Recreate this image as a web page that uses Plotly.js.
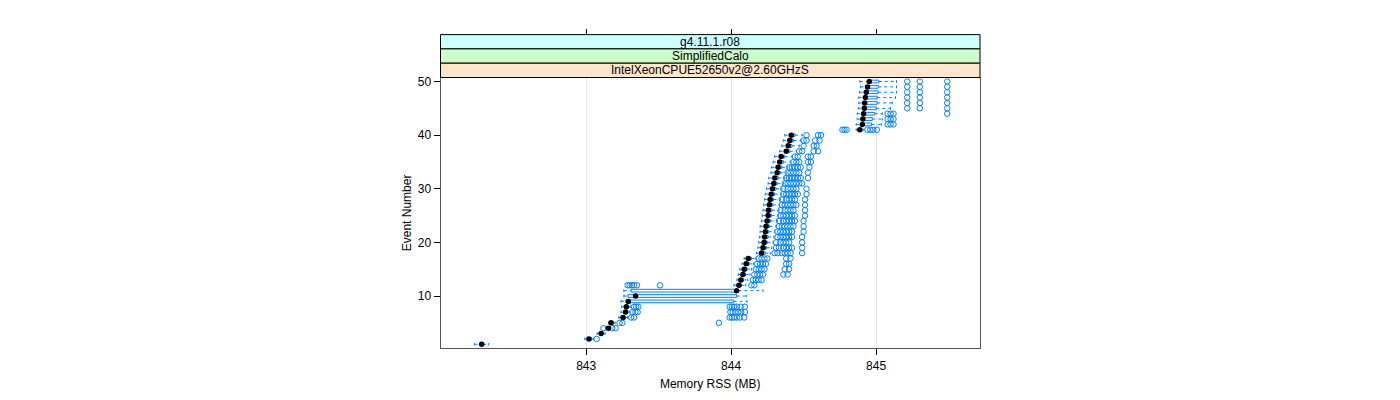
<!DOCTYPE html>
<html><head><meta charset="utf-8">
<script src="https://cdn.plot.ly/plotly-3.0.1.min.js"></script>
<style>html,body{margin:0;padding:0;background:#fff}#chart{width:1400px;height:400px}</style>
</head><body><div id="chart"></div>
<script>
// ---- data ----
const events = [1,2,3,4,5,6,7,8,9,10,11,12,13,14,15,16,17,18,19,20,21,22,23,24,25,26,27,28,29,30,31,32,33,34,35,36,37,38,39,40,41,42,43,44,45,46,47,48,49,50];
const lowerWhisker = [842.230,842.990,843.075,843.135,843.155,843.225,843.240,843.245,843.240,843.260,843.260,844.020,844.040,844.050,844.060,844.075,844.090,844.175,844.185,844.190,844.195,844.200,844.200,844.210,844.215,844.220,844.225,844.230,844.235,844.245,844.255,844.260,844.275,844.280,844.290,844.300,844.335,844.350,844.360,844.370,844.863,844.863,844.870,844.870,844.877,844.881,844.881,844.886,844.893,844.888];
const q1 = [842.268,843.015,843.095,843.145,843.168,843.245,843.262,843.268,843.275,843.288,843.310,844.040,844.058,844.070,844.080,844.095,844.110,844.200,844.210,844.218,844.222,844.227,844.232,844.240,844.246,844.248,844.255,844.260,844.267,844.276,844.285,844.292,844.308,844.315,844.325,844.335,844.370,844.384,844.395,844.405,844.882,844.898,844.903,844.908,844.912,844.915,844.920,844.925,844.935,844.945];
const median = [842.279,843.019,843.103,843.153,843.172,843.254,843.272,843.277,843.291,843.341,844.038,844.054,844.067,844.081,844.090,844.104,844.118,844.210,844.220,844.227,844.231,844.236,844.241,844.248,844.255,844.257,844.264,844.269,844.276,844.285,844.294,844.301,844.317,844.324,844.335,844.345,844.380,844.394,844.405,844.415,844.888,844.905,844.909,844.914,844.919,844.921,844.926,844.932,844.941,844.953];
const q3 = [842.290,843.035,843.115,843.165,843.185,843.270,843.285,843.290,844.017,844.038,844.050,844.070,844.085,844.100,844.110,844.125,844.140,844.235,844.245,844.250,844.255,844.260,844.265,844.272,844.278,844.282,844.288,844.293,844.300,844.310,844.318,844.325,844.340,844.350,844.360,844.370,844.405,844.420,844.430,844.440,844.900,844.969,844.974,844.992,845.001,845.008,845.008,845.015,845.015,845.019];
const upperWhisker = [842.328,843.050,843.130,843.170,843.200,843.285,843.300,843.305,844.110,844.105,844.220,844.100,844.115,844.130,844.140,844.155,844.170,844.270,844.280,844.290,844.295,844.300,844.310,844.320,844.325,844.330,844.335,844.340,844.345,844.350,844.360,844.370,844.380,844.390,844.410,844.420,844.450,844.470,844.480,844.490,844.916,845.036,845.043,845.043,845.100,845.112,845.134,845.141,845.141,845.141];
const outliers = [
  [],
  [843.072],
  [],
  [843.119,843.180,843.203],
  [843.230,843.250,843.916],
  [843.310,843.330,843.990,844.005,844.020,844.040,844.060,844.090],
  [843.320,843.340,843.355,843.995,844.010,844.030,844.050,844.070,844.095],
  [843.330,843.345,843.360,843.990,844.005,844.020,844.040,844.065,844.095],
  [],
  [],
  [],
  [843.286,843.300,843.315,843.330,843.350,843.510,844.140,844.160],
  [844.150,844.170,844.190,844.210],
  [844.160,844.180,844.200,844.220,844.360,844.390],
  [844.170,844.190,844.210,844.230,844.370,844.400],
  [844.180,844.200,844.220,844.240,844.380,844.400],
  [844.190,844.210,844.230,844.250,844.380,844.410],
  [844.300,844.320,844.350,844.370,844.390,844.410,844.490],
  [844.310,844.330,844.360,844.380,844.400,844.420,844.490],
  [844.310,844.340,844.360,844.380,844.400,844.490],
  [844.320,844.340,844.360,844.380,844.400,844.420,844.490],
  [844.320,844.340,844.360,844.380,844.400,844.420,844.500],
  [844.330,844.350,844.370,844.390,844.410,844.430,844.500],
  [844.330,844.360,844.380,844.400,844.420,844.440,844.500],
  [844.340,844.360,844.380,844.400,844.420,844.440,844.510],
  [844.340,844.370,844.390,844.410,844.430,844.510],
  [844.350,844.370,844.390,844.410,844.430,844.450,844.510],
  [844.350,844.380,844.400,844.420,844.440,844.510],
  [844.360,844.380,844.400,844.420,844.440,844.460,844.520],
  [844.360,844.390,844.410,844.430,844.450,844.520],
  [844.370,844.390,844.410,844.430,844.450,844.470,844.490],
  [844.380,844.400,844.420,844.440,844.460,844.480,844.530],
  [844.390,844.410,844.430,844.450,844.470,844.530],
  [844.400,844.420,844.440,844.460,844.480,844.540],
  [844.430,844.450,844.470,844.530,844.550],
  [844.440,844.460,844.530,844.550],
  [844.470,844.490,844.570,844.600],
  [844.500,844.570,844.590],
  [844.500,844.520,844.580,844.610],
  [844.520,844.600,844.620],
  [844.768,844.782,844.797,844.940,844.960,844.980,845.005],
  [845.080,845.100,845.120],
  [845.080,845.100,845.120],
  [845.080,845.100,845.120,845.491],
  [845.215,845.302,845.491],
  [845.215,845.302,845.491],
  [845.215,845.302,845.491],
  [845.215,845.302,845.491],
  [845.215,845.302,845.491],
  [845.215,845.302,845.491]
];
const stripLabels = ["g4.11.1.r08", "SimplifiedCalo", "IntelXeonCPUE52650v2@2.60GHzS"];
const stripColors = ["#ccffff", "#ccffcc", "#ffe5cc"];
const xTickVals = [843, 844, 845];
const yTickVals = [10, 20, 30, 40, 50];

// ---- build marks from data ----
const H = 0.25; // half box height in category units
const BLUE = "#0080ff";
const boxX = [], boxY = [], whX = [], whY = [], capX = [], capY = [];
const outX = [], outY = [];
events.forEach((e, i) => {
  boxX.push(q1[i], q3[i], q3[i], q1[i], q1[i], null);
  boxY.push(e - H, e - H, e + H, e + H, e - H, null);
  whX.push(lowerWhisker[i], q1[i], null, q3[i], upperWhisker[i], null);
  whY.push(e, e, null, e, e, null);
  capX.push(lowerWhisker[i], lowerWhisker[i], null, upperWhisker[i], upperWhisker[i], null);
  capY.push(e - H, e + H, null, e - H, e + H, null);
  outliers[i].forEach(v => { outX.push(v); outY.push(e); });
});

const traces = [
  {type: "scatter", mode: "lines", x: whX, y: whY, line: {color: BLUE, width: 1, dash: "3px,3px"}, hoverinfo: "skip", showlegend: false},
  {type: "scatter", mode: "lines", x: capX, y: capY, line: {color: BLUE, width: 1}, hoverinfo: "skip", showlegend: false},
  {type: "scatter", mode: "lines", x: boxX, y: boxY, line: {color: BLUE, width: 1}, hoverinfo: "skip", showlegend: false},
  {type: "scatter", mode: "markers", x: outX, y: outY, marker: {symbol: "circle-open", size: 5.5, color: BLUE, line: {width: 1, color: BLUE}}, showlegend: false},
  {type: "scatter", mode: "markers", x: median, y: events, xaxis: "x2", marker: {symbol: "circle", size: 5.5, color: "#000000"}, showlegend: false}
];

const W = 1400, HH = 400;
const px0 = 440.5, px1 = 980, pyTop = 77.5, pyBot = 348.3;
const stripH = 14.3;
const xdom = [px0 / W, px1 / W];
const FONT = "Liberation Sans, Arial, Helvetica, sans-serif";

const shapes = [], annotations = [];
stripLabels.forEach((lab, k) => {
  const top = pyTop - (3 - k) * stripH;
  const bot = top + stripH;
  shapes.push({type: "rect", xref: "paper", yref: "paper", x0: xdom[0], x1: xdom[1], y0: 1 - bot / HH, y1: 1 - top / HH,
    fillcolor: stripColors[k], line: {color: "#000000", width: 1}, layer: "above"});
  annotations.push({xref: "paper", yref: "paper", x: (xdom[0] + xdom[1]) / 2, y: 1 - (top + bot) / 2 / HH,
    text: lab, showarrow: false, xanchor: "center", yanchor: "middle", font: {family: FONT, size: 12, color: "#000"}});
});

const xRange = [841.995, 845.717];
const layout = {
  width: W, height: HH,
  margin: {l: 0, r: 0, t: 0, b: 0},
  paper_bgcolor: "#ffffff", plot_bgcolor: "#ffffff",
  font: {family: FONT, size: 12, color: "#000"},
  showlegend: false,
  xaxis: {domain: xdom, range: xRange, tickvals: xTickVals, ticks: "outside", ticklen: 6, tickcolor: "#000",
    showline: true, mirror: true, linecolor: "#555", linewidth: 1, showgrid: true, gridcolor: "#e6e6e6", zeroline: false,
    tickfont: {size: 12}, title: {text: "Memory RSS (MB)", font: {size: 12}, standoff: 7}, automargin: false},
  xaxis2: {overlaying: "x", matches: "x", range: xRange, anchor: "free", position: 1 - (pyTop - 3 * stripH) / HH, side: "top",
    tickvals: xTickVals, ticks: "outside", ticklen: 6, tickcolor: "#000", showticklabels: false, showline: false,
    showgrid: false, zeroline: false},
  yaxis: {domain: [1 - pyBot / HH, 1 - pyTop / HH], range: [0.25, 50.75], tickvals: yTickVals, ticks: "outside", ticklen: 6,
    tickcolor: "#000", showline: true, mirror: true, linecolor: "#555", linewidth: 1, showgrid: false, zeroline: false,
    tickfont: {size: 12}, title: {text: "Event Number", font: {size: 12}, standoff: 3}, automargin: false},
  shapes: shapes,
  annotations: annotations
};

Plotly.newPlot("chart", traces, layout, {staticPlot: true, displayModeBar: false});
</script>
</body></html>
